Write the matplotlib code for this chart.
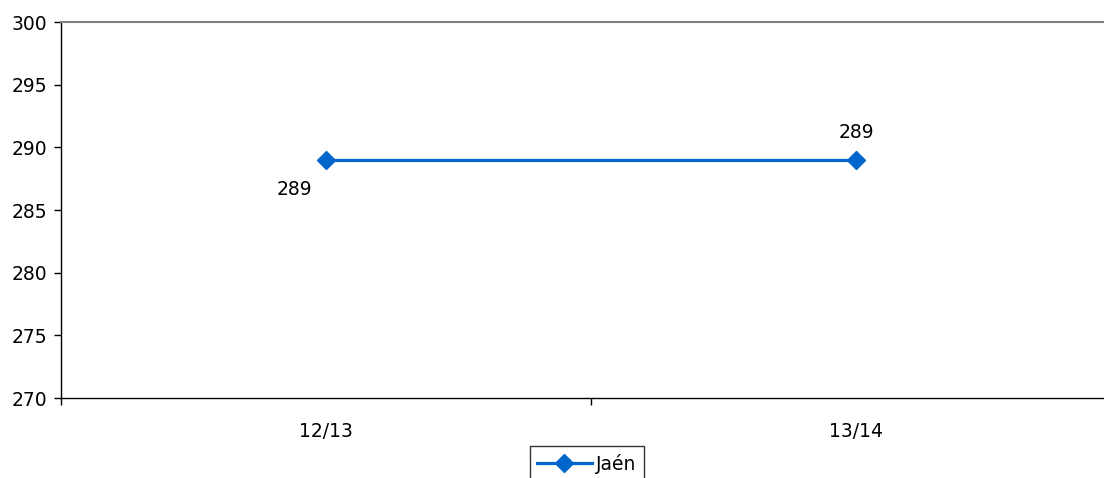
import matplotlib.pyplot as plt

# data
seasons = ['12/13', '13/14']
jaen = [289, 289]
y_ticks = [270, 275, 280, 285, 290, 295, 300]

W, H = 1104, 478
FS = 13.5
fig = plt.figure(figsize=(W / 100, H / 100), dpi=100)
fig.patch.set_facecolor('white')

# plot area runs past the right edge of the picture
ax = fig.add_axes([61 / W, 1 - 398 / H, 1060 / W, 376 / H])
ax.set_facecolor('white')

x = [i + 0.5 for i in range(len(seasons))]
line, = ax.plot(x, jaen, color='#0066CC', lw=2.3, marker='D', markersize=9,
                markeredgecolor='#0066CC', markerfacecolor='#0066CC',
                label='Jaén', clip_on=False, zorder=3)

# data labels
ax.annotate(str(jaen[0]), (x[0], jaen[0]), xytext=(-23, -21), textcoords='offset points',
            ha='center', va='center', fontsize=FS, color='black')
ax.annotate(str(jaen[1]), (x[1], jaen[1]), xytext=(0, 20), textcoords='offset points',
            ha='center', va='center', fontsize=FS, color='black')

ax.set_xlim(0, len(seasons))
ax.set_ylim(270, 300)
ax.set_yticks(y_ticks)
ax.set_yticklabels([str(v) for v in y_ticks], fontsize=FS)

# category boundaries as ticks, names centred between them
ax.set_xticks([0, 1, 2])
ax.set_xticklabels([])
ax.set_xticks(x, minor=True)
ax.set_xticklabels(seasons, minor=True, fontsize=FS)
ax.tick_params(axis='x', which='minor', length=0, pad=17)
ax.tick_params(axis='x', which='major', length=5, width=1, color='black')
ax.tick_params(axis='y', length=5, width=1, color='black', pad=5)

for side in ['left', 'bottom']:
    ax.spines[side].set_color('black')
    ax.spines[side].set_linewidth(1)
ax.spines['top'].set_color('#808080')
ax.spines['top'].set_linewidth(1.5)
ax.spines['right'].set_visible(False)

leg = fig.legend(handles=[line], loc='upper center', bbox_to_anchor=(587 / W, 1 - 446 / H),
                 fontsize=FS, frameon=True, fancybox=False, handlelength=2.9,
                 handletextpad=0.25, borderpad=0.4, borderaxespad=0)
leg.get_frame().set_edgecolor('black')
leg.get_frame().set_linewidth(1)

fig.savefig('out.png', dpi=100, facecolor='white')
